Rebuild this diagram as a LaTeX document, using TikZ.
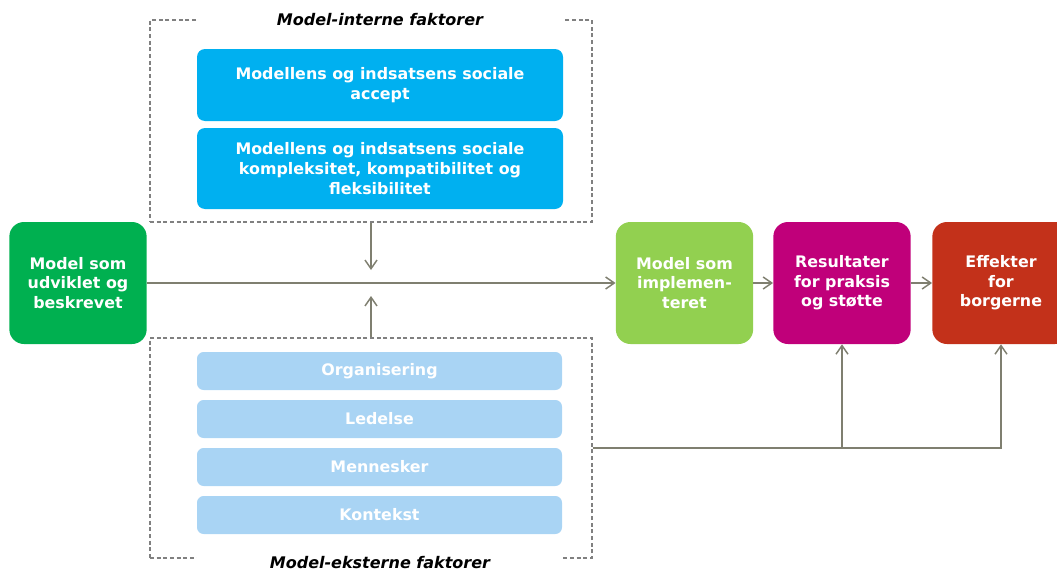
\documentclass[tikz,border=0pt]{standalone}
\usepackage{fontspec}
\setmainfont{DejaVu Sans}
\usetikzlibrary{arrows.meta, positioning}
\definecolor{cblue}{HTML}{00B0F0}
\definecolor{clightblue}{HTML}{A9D4F4}
\definecolor{cgreen}{HTML}{00B050}
\definecolor{clightgreen}{HTML}{92D050}
\definecolor{cmagenta}{HTML}{C0007A}
\definecolor{cred}{HTML}{C3311A}
\definecolor{carrow}{HTML}{7F7F70}
\definecolor{cdash}{HTML}{808080}

\begin{document}
\begin{tikzpicture}[x=0.75pt, y=-0.75pt,
    bigbox/.style={rounded corners=11pt, text=white, font=\bfseries\fontsize{11.9}{14.5}\selectfont, align=center, minimum width=103pt, minimum height=91.5pt, inner sep=0pt},
    innerbox/.style={fill=cblue, rounded corners=6pt, text=white, font=\bfseries\fontsize{11.9}{15}\selectfont, align=center, minimum width=274.5pt, inner sep=0pt},
    outerbox/.style={fill=clightblue, rounded corners=5pt, text=white, font=\bfseries\fontsize{11.9}{14}\selectfont, minimum width=273.75pt, minimum height=28.5pt, inner sep=0pt},
    framebox/.style={draw=cdash, dashed, dash pattern=on 3pt off 2pt, line width=0.8pt, minimum width=331.5pt, inner sep=0pt},
    framelabel/.style={fill=white, font=\bfseries\itshape\fontsize{12}{14}\selectfont, minimum width=274pt, inner sep=1pt},
    conn/.style={draw=carrow, line width=1.1pt, -{Straight Barb[length=6.5pt, width=9pt, line width=1.1pt]}}]

            \useasboundingbox (0,0) rectangle (1057,571);

            \node[framebox, minimum height=151.5pt] (intern) at (371,121) {};
            \node[framelabel] (internlabel) at (380,20) {Model-interne faktorer};
            \node[innerbox, minimum height=54pt] (accept) at (380,85) {Modellens og indsatsens sociale\\accept};
            \node[innerbox, minimum height=60.75pt] (kompleks) at (380,168.5) {Modellens og indsatsens sociale\\kompleksitet, kompatibilitet og\\fleksibilitet};

            \node[framebox, minimum height=165pt] (ekstern) at (371,448) {};
            \node[framelabel] (eksternlabel) at (380,563) {Model-eksterne faktorer};
            \node[outerbox] (org) at (379.5,371) {Organisering};
            \node[outerbox] (led) at (379.5,419) {Ledelse};
            \node[outerbox] (men) at (379.5,467) {Mennesker};
            \node[outerbox] (kon) at (379.5,515) {Kontekst};

            \node[bigbox, fill=cgreen] (udviklet) at (78,283) {Model som\\udviklet og\\beskrevet};
            \node[bigbox, fill=clightgreen] (implem) at (684.5,283) {Model som\\implemen-\\teret};
            \node[bigbox, fill=cmagenta] (resultat) at (842,283) {Resultater\\for praksis\\og støtte};
            \node[bigbox, fill=cred] (effekt) at (1001,283) {Effekter\\for\\borgerne};

            \coordinate (intend) at (371,270);
            \coordinate (ekstend) at (371,296);

            \draw[conn] (udviklet) -- (implem);
            \draw[conn] (implem) -- (resultat);
            \draw[conn] (resultat) -- (effekt);
            \draw[conn] (intern.south) -- (intend);
            \draw[conn] (ekstern.north) -- (ekstend);
            \draw[conn] (ekstern.east) -| (effekt.south);
            \draw[conn] (resultat.south |- ekstern.east) -- (resultat.south);

        \end{tikzpicture}
\end{document}
